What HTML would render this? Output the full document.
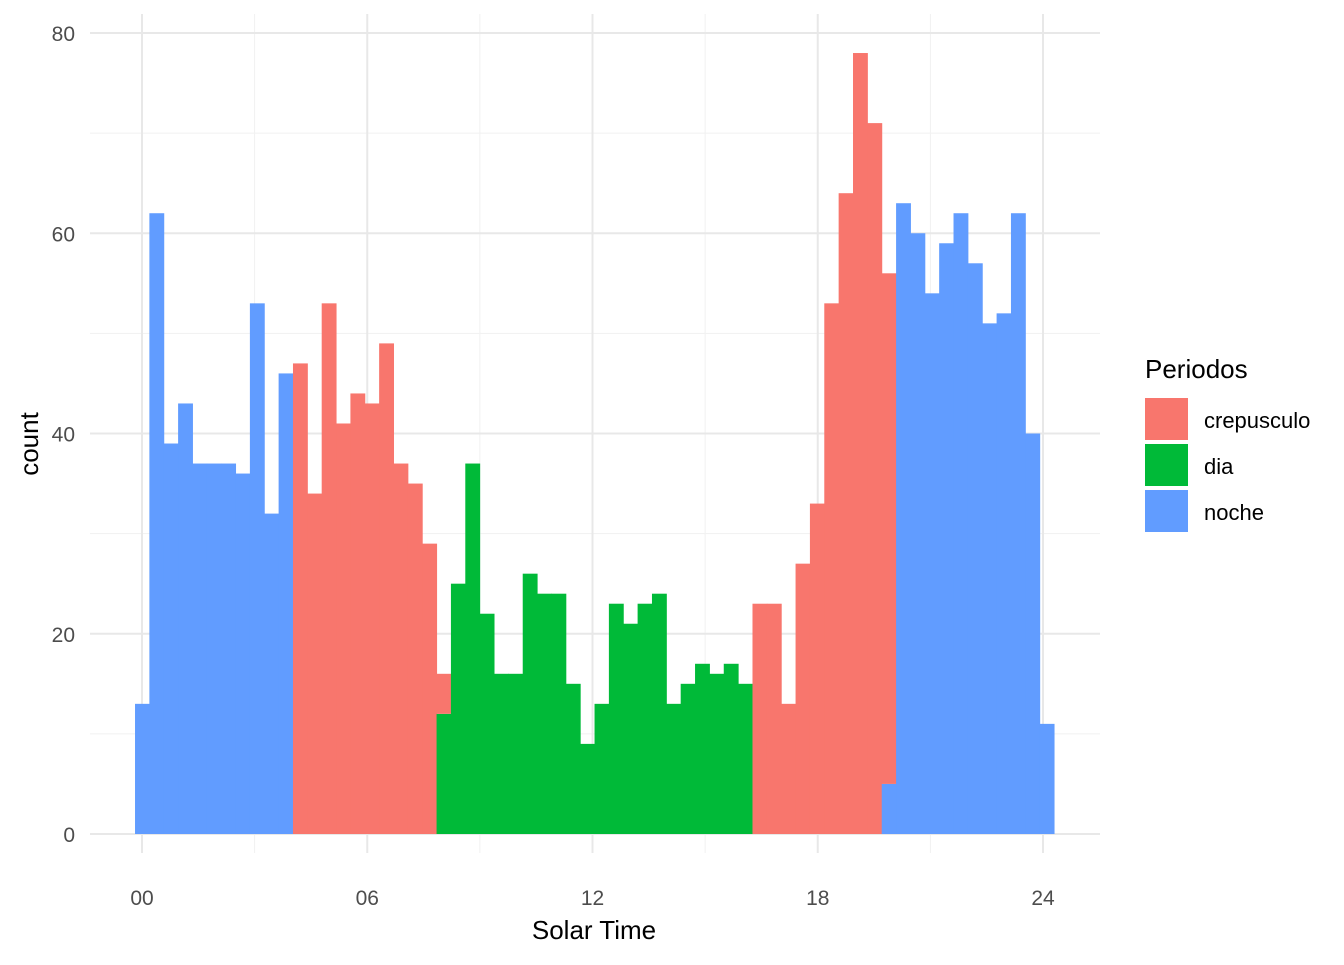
<!DOCTYPE html>
<html><head><meta charset="utf-8"><style>
body{margin:0;background:#fff;font-family:"Liberation Sans",Arial,sans-serif;}
svg text{font-family:"Liberation Sans",Arial,sans-serif;}
</style></head><body>
<svg id="chart" width="1344" height="960" viewBox="0 0 1344 960">
<g id="grid"></g><g id="bars"></g><g id="axes"></g>
<text x="594" y="939" font-size="26" text-anchor="middle" fill="#000">Solar Time</text>
<text x="0" y="0" font-size="26" text-anchor="middle" fill="#000" transform="translate(38,444) rotate(-90)">count</text>
<g>
<text x="1145" y="378" font-size="26" fill="#000">Periodos</text>
<rect x="1145" y="398" width="43" height="42" fill="#F8766D"/>
<text x="1204" y="428" font-size="22" fill="#000">crepusculo</text>
<rect x="1145" y="444" width="43" height="42" fill="#00BA38"/>
<text x="1204" y="474" font-size="22" fill="#000">dia</text>
<rect x="1145" y="490" width="43" height="42" fill="#619CFF"/>
<text x="1204" y="520" font-size="22" fill="#000">noche</text>
</g>
</svg>
<script>
const binStart = -0.186;
const binWidth = 0.3825;
const noche = [13,62,39,43,37,37,37,36,53,32,46,0,0,0,0,0,0,0,0,0,0,0,0,0,0,0,0,0,0,0,0,0,0,0,0,0,0,0,0,0,0,0,0,0,0,0,0,0,0,0,0,0,5,63,60,54,59,62,57,51,52,62,40,11];
const dia = [0,0,0,0,0,0,0,0,0,0,0,0,0,0,0,0,0,0,0,0,0,12,25,37,22,16,16,26,24,24,15,9,13,23,21,23,24,13,15,17,16,17,15,0,0,0,0,0,0,0,0,0,0,0,0,0,0,0,0,0,0,0,0,0];
const crepusculo = [0,0,0,0,0,0,0,0,0,0,0,47,34,53,41,44,43,49,37,35,29,4,0,0,0,0,0,0,0,0,0,0,0,0,0,0,0,0,0,0,0,0,0,23,23,13,27,33,53,64,78,71,51,0,0,0,0,0,0,0,0,0,0,0];
const xTicks = [0,6,12,18,24];
const xTickLabels = ["00","06","12","18","24"];
const yTicks = [0,20,40,60,80];
const NS="http://www.w3.org/2000/svg";
const X = h => 142 + h*(901/24);
const Y = v => 834 - v*(801/80);
function mk(tag,attrs,parent){const e=document.createElementNS(NS,tag);for(const k in attrs)e.setAttribute(k,attrs[k]);parent.appendChild(e);return e;}
const grid=document.getElementById('grid'), bars=document.getElementById('bars'), axes=document.getElementById('axes');
for(let v=10;v<=80;v+=20){const l=mk('line',{x1:90,x2:1100,y1:Y(v),y2:Y(v),stroke:'#f1f1f1','stroke-width':1},grid);

}
for(let h=3;h<24;h+=6){const l=mk('line',{x1:X(h),x2:X(h),y1:14,y2:853,stroke:'#f1f1f1','stroke-width':1},grid);

}
yTicks.forEach(v=>{const l=mk('line',{x1:90,x2:1100,y1:Y(v),y2:Y(v),stroke:'#e8e8e8','stroke-width':2},grid);


const t=mk('text',{x:75,y:Y(v)+8,'font-size':21,'text-anchor':'end',fill:'#4d4d4d'},axes);t.textContent=v;

});
xTicks.forEach((h,i)=>{const l=mk('line',{x1:X(h),x2:X(h),y1:14,y2:853,stroke:'#e8e8e8','stroke-width':2},grid);


const t=mk('text',{x:X(h),y:905,'font-size':21,'text-anchor':'middle',fill:'#4d4d4d'},axes);t.textContent=xTickLabels[i];

});
const series=[["noche",noche,"#619CFF"],["dia",dia,"#00BA38"],["crepusculo",crepusculo,"#F8766D"]];
for(let i=0;i<noche.length;i++){
  let base=0;
  const x0=X(binStart+i*binWidth), x1=X(binStart+(i+1)*binWidth);
  series.forEach(([name,arr,col])=>{
    const v=arr[i]; if(!v) return;
    const r=mk('rect',{x:x0,y:Y(base+v),width:x1-x0+0.5,height:Y(base)-Y(base+v),fill:col},bars);
    
    
    base+=v;
  });
}
</script>
</body></html>
